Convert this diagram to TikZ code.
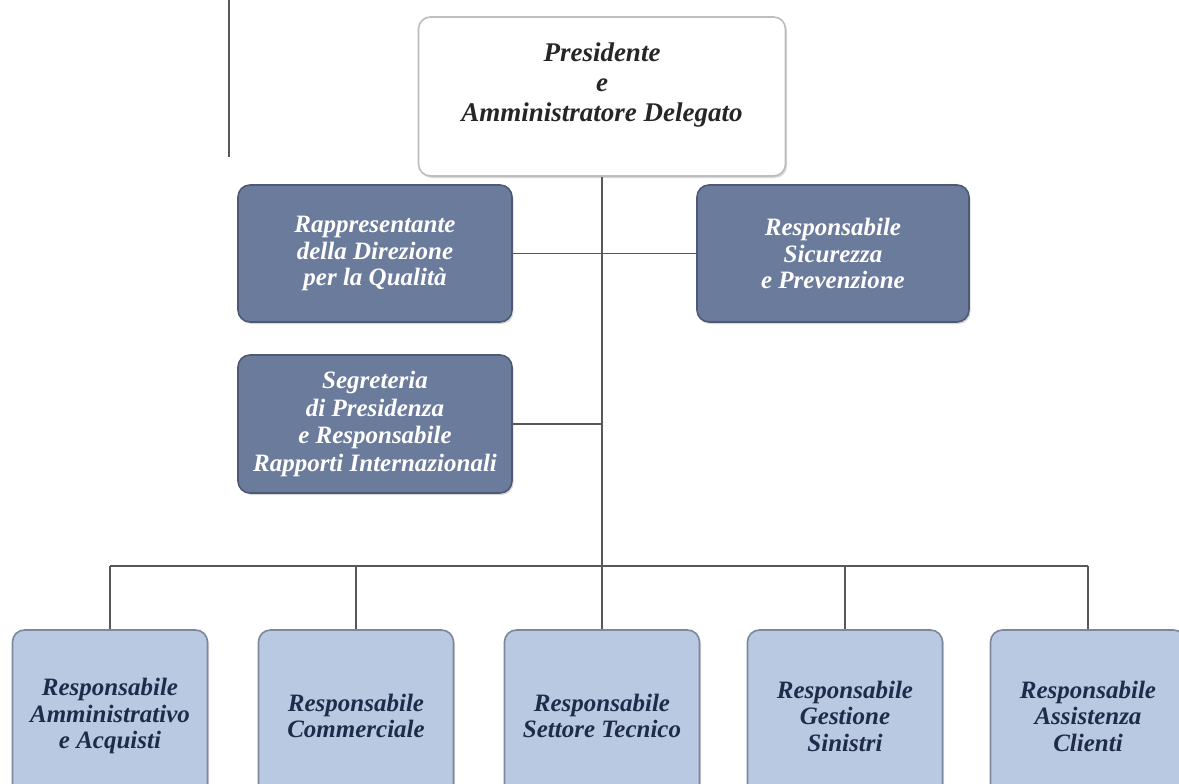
\documentclass[tikz,border=0pt]{standalone}
\usepackage{fontspec}
\setmainfont{Liberation Serif}
\usetikzlibrary{shadows}
\definecolor{darkfill}{HTML}{6B7B9C}
\definecolor{darkedge}{HTML}{4E5A74}
\definecolor{lightfill}{HTML}{B9C9E1}
\definecolor{lightedge}{HTML}{7C889C}
\definecolor{navytext}{HTML}{1F2B4A}
\definecolor{topedge}{HTML}{BDBDBD}
\definecolor{linecol}{HTML}{585858}
\tikzset{
  boxbase/.style={rectangle, rounded corners=12pt, line width=1.6pt, align=center,
    font=\bfseries\itshape\fontsize{25}{26.5}\selectfont,
    drop shadow={shadow xshift=1.5pt, shadow yshift=-2pt, opacity=0.3}},
  topbox/.style={boxbase, fill=white, draw=topedge, text=black!85,
    minimum width=367pt, minimum height=159pt,
    font=\bfseries\itshape\fontsize{27}{30}\selectfont},
  darkbox/.style={boxbase, fill=darkfill, draw=darkedge, text=white,
    minimum width=274pt, minimum height=137pt},
  lightbox/.style={boxbase, fill=lightfill, draw=lightedge, text=navytext,
    minimum width=195pt, minimum height=172pt},
  conn/.style={draw=linecol, line width=1.8pt}
}
\begin{document}
\begin{tikzpicture}[x=1pt,y=-1pt]
\useasboundingbox (0,0) rectangle (1179,784);
\clip (0,0) rectangle (1179,784);
\fill[white] (0,0) rectangle (1179,784);

% decorative line top-left
\draw[draw=linecol, line width=1.4pt] (229,0) -- (229,157);

% nodes
\node[topbox] (top) at (602,96.5) {Presidente\\e\\Amministratore Delegato\rule[-28pt]{0pt}{0pt}};
\node[darkbox] (rap) at (375,253.5) {Rappresentante\\della Direzione\\per la Qualità};
\node[darkbox, minimum width=272pt] (sic) at (833,253.5) {Responsabile\\Sicurezza\\e Prevenzione};
\node[darkbox, minimum height=138pt, font=\bfseries\itshape\fontsize{25}{27.5}\selectfont] (seg) at (375,424) {Segreteria\\di Presidenza\\e Responsabile\\Rapporti Internazionali};

\node[lightbox] (b1) at (110,716) {Responsabile\\Amministrativo\\e Acquisti};
\node[lightbox] (b2) at (356,716) {Responsabile\\Commerciale};
\node[lightbox] (b3) at (602,716) {Responsabile\\Settore Tecnico};
\node[lightbox] (b4) at (845,716) {Responsabile\\Gestione\\Sinistri};
\node[lightbox] (b5) at (1088,716) {Responsabile\\Assistenza\\Clienti};

\coordinate (hub) at (602,566);

% connectors
\draw[conn] (top.south) -- (hub);
\draw[conn] (rap.east) -- (sic.west);
\draw[conn] (seg.east) -- (seg.east -| top.south);
\draw[conn] (b1.north |- hub) -- (b5.north |- hub);
\foreach \b in {b1,b2,b3,b4,b5}{
  \draw[conn] (\b.north |- hub) -- (\b.north);
}
\end{tikzpicture}
\end{document}
